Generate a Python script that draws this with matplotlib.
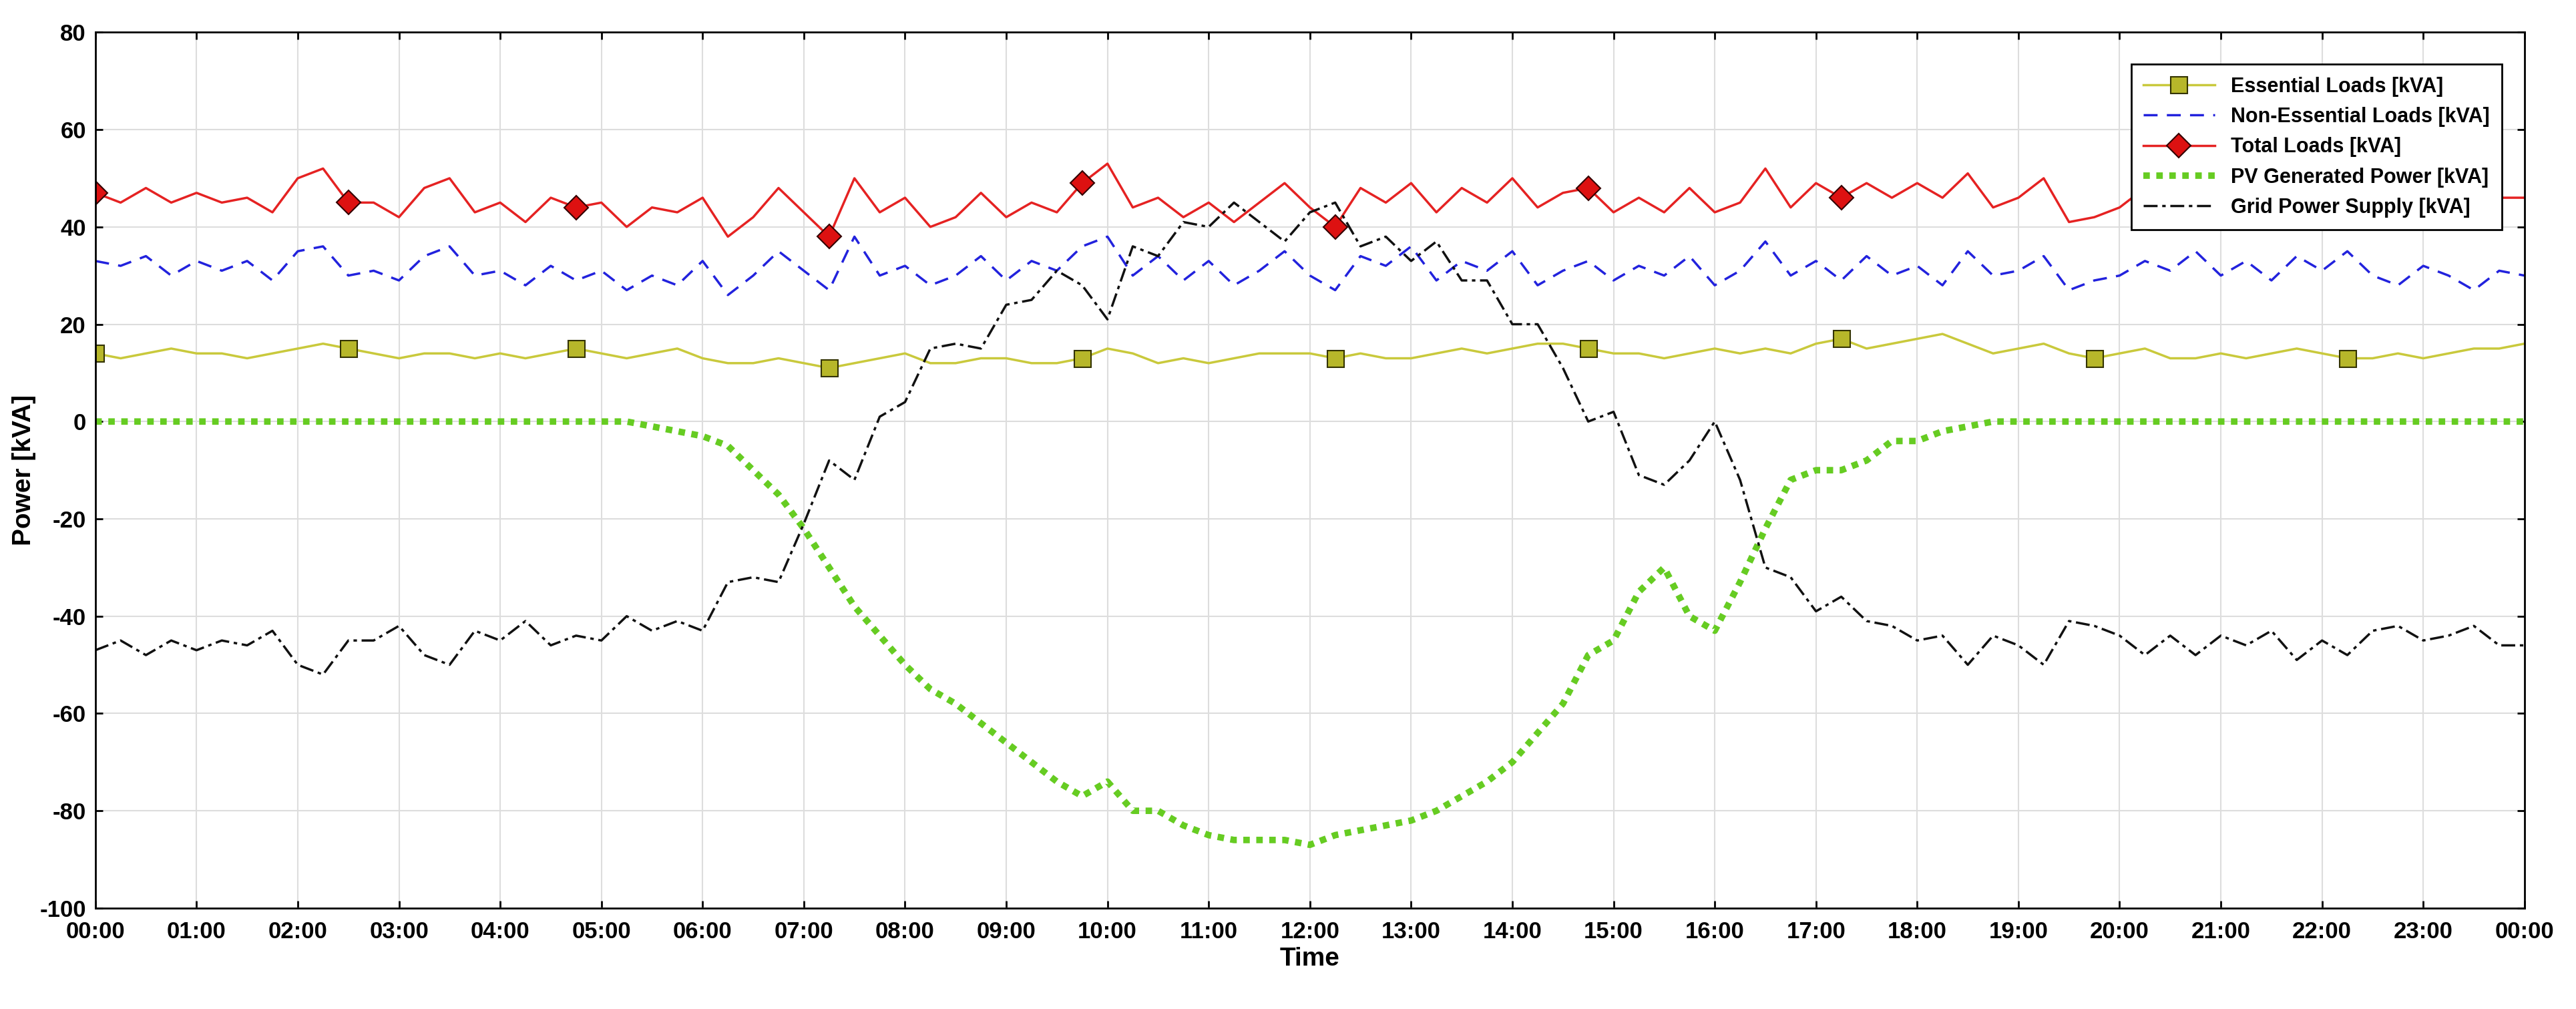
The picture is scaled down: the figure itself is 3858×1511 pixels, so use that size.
import numpy as np
import matplotlib
matplotlib.use("Agg")
import matplotlib.pyplot as plt

hours = np.arange(97) * 0.25
xtick_labels = ["%02d:00" % h for h in range(24)] + ["00:00"]

essential = [14,13,14,15,14,14,13,14,15,16,15,14,
             13,14,14,13,14,13,14,15,14,13,14,15,
             13,12,12,13,12,11,12,13,14,12,12,13,
             13,12,12,13,15,14,12,13,12,13,14,14,
             14,13,14,13,13,14,15,14,15,16,16,15,
             14,14,13,14,15,14,15,14,16,17,15,16,
             17,18,16,14,15,16,14,13,14,15,13,13,
             14,13,14,15,14,13,13,14,13,14,15,15,
             16]
non_essential = [33,32,34,30,33,31,33,29,35,36,30,31,
                 29,34,36,30,31,28,32,29,31,27,30,28,
                 33,26,30,35,31,27,38,30,32,28,30,34,
                 29,33,31,36,38,30,34,29,33,28,31,35,
                 30,27,34,32,36,29,33,31,35,28,31,33,
                 29,32,30,34,28,31,37,30,33,29,34,30,
                 32,28,35,30,31,34,27,29,30,33,31,35,
                 30,33,29,34,31,35,30,28,32,30,27,31,
                 30]
pv = [0,0,0,0,0,0,0,0,0,0,0,0,
      0,0,0,0,0,0,0,0,0,0,-1,-2,
      -3,-5,-10,-15,-22,-30,-38,-44,-50,-55,-58,-62,
      -66,-70,-74,-77,-74,-80,-80,-83,-85,-86,-86,-86,
      -87,-85,-84,-83,-82,-80,-77,-74,-70,-64,-58,-48,
      -45,-35,-30,-40,-43,-33,-22,-12,-10,-10,-8,-4,
      -4,-2,-1,0,0,0,0,0,0,0,0,0,
      0,0,0,0,0,0,0,0,0,0,0,0,
      0]

essential = np.array(essential, float)
non_essential = np.array(non_essential, float)
pv = np.array(pv, float)
total = essential + non_essential
grid = -(total + pv)

plt.rcParams['font.family'] = ['Liberation Sans', 'DejaVu Sans']
plt.rcParams['axes.unicode_minus'] = False
fig = plt.figure(figsize=(38.58, 15.11), dpi=100)
ax = fig.add_axes([0.037, 0.10, 0.943, 0.868])

ax.plot(hours, essential, color='#c9c93c', lw=2.5, marker='s', markersize=18,
        markerfacecolor='#b7b72a', markeredgecolor='#333300', markeredgewidth=1.5,
        markevery=[0,10,19,29,39,49,59,69,79,89], label='Essential Loads [kVA]')
ax.plot(hours, non_essential, color='#2222dd', lw=2.5, ls=(0, (6, 4)),
        label='Non-Essential Loads [kVA]')
ax.plot(hours, total, color='#e52222', lw=2.5, marker='D', markersize=18,
        markerfacecolor='#dd1111', markeredgecolor='#330000', markeredgewidth=1.5,
        markevery=[0,10,19,29,39,49,59,69], label='Total Loads [kVA]')
ax.plot(hours, pv, color='#66cc22', lw=7, ls=(0, (1, 1)),
        label='PV Generated Power [kVA]')
ax.plot(hours, grid, color='#111111', lw=2.5, ls=(0, (6, 2, 1.5, 2)),
        label='Grid Power Supply [kVA]')

ax.set_xlim(0, 24)
ax.set_ylim(-100, 80)
ax.set_xticks(np.arange(25))
ax.set_xticklabels(xtick_labels)
ax.set_yticks(np.arange(-100, 81, 20))
ax.grid(True, color='#dddddd', lw=1.5)
ax.tick_params(labelsize=25, width=2, length=8, direction='in', top=True, right=True)
ax.tick_params(axis='x', pad=14)
ax.tick_params(axis='y', pad=10)
for lab in ax.get_xticklabels() + ax.get_yticklabels():
    lab.set_fontweight('bold')
for s in ax.spines.values():
    s.set_linewidth(2)
ax.set_xlabel('Time', fontsize=28, fontweight='bold', labelpad=4)
ax.set_ylabel('Power [kVA]', fontsize=28, fontweight='bold')
leg = ax.legend(loc='upper right', bbox_to_anchor=(0.995, 0.975), frameon=True,
                fancybox=False, edgecolor='black', framealpha=1, handlelength=3.5,
                borderpad=0.6, prop={'weight': 'bold', 'size': 22})
leg.get_frame().set_linewidth(2)
fig.savefig('out.png', dpi=100)
